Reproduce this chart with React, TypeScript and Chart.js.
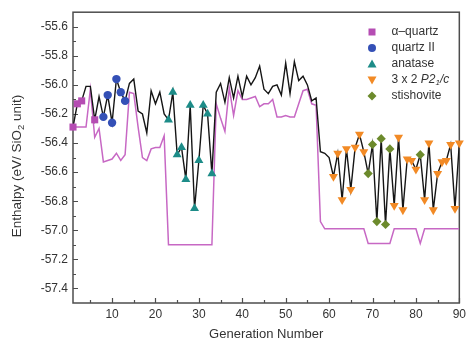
import React, { useEffect, useRef } from 'react';
import { Chart, registerables } from 'chart.js';

Chart.register(...registerables);

// ---------- data ----------
const FIRST_GENERATION = 1;

// Enthalpy of the structure found at each generation (black line), eV / SiO2 unit
const ENTHALPY = [
  -56.29, -56.13, -56.11, -56.01, -56.01, -56.24, -56.08, -56.22, -56.07, -56.26,
  -55.96, -56.05, -56.11, -55.99, -55.96, -56.18, -56.2, -56.33, -56.04, -56.13,
  -56.05, -56.2, -56.24, -56.05, -56.48, -56.43, -56.65, -56.14, -56.85, -56.52,
  -56.14, -56.2, -56.61, -56.05, -55.99, -56.12, -55.95, -56.09, -55.94, -56.08,
  -55.94, -56.0, -55.95, -55.87, -56.03, -56.06, -56.01, -56.0, -56.07, -55.85,
  -56.06, -55.84, -55.97, -55.94, -56.0, -56.11, -56.09, -56.46, -56.47, -56.5,
  -56.63, -56.47, -56.79, -56.44, -56.72, -56.43, -56.34, -56.46, -56.61, -56.41,
  -56.94, -56.37, -56.96, -56.44, -56.83, -56.36, -56.86, -56.51, -56.52, -56.58,
  -56.48, -56.79, -56.4, -56.86, -56.61, -56.53, -56.52, -56.41, -56.85, -56.4,
];

// Second (magenta) curve
const SECOND_CURVE = [
  -56.29, -56.29, -56.29, -56.29, -56.03, -56.36, -56.3, -56.53, -56.52, -56.51,
  -56.47, -56.52, -56.48, -56.05, -56.06, -56.29, -56.5, -56.52, -56.44, -56.43,
  -56.43, -56.35, -57.1, -57.1, -57.1, -57.1, -57.1, -57.1, -57.1, -57.1,
  -57.1, -57.1, -57.1, -56.13, -56.23, -56.32, -56.02, -56.21, -56.04, -56.1,
  -56.1, -56.09, -56.08, -56.15, -56.13, -56.13, -56.1, -56.22, -56.22, -56.21,
  -56.22, -56.22, -56.13, -56.04, -56.03, -56.13, -56.14, -56.94, -56.99, -56.99,
  -56.99, -56.99, -56.99, -56.99, -56.99, -56.99, -56.99, -56.99, -57.09, -57.09,
  -57.09, -57.09, -57.09, -57.09, -56.99, -56.99, -56.99, -56.99, -56.99, -56.99,
  -57.09, -56.99, -56.99, -56.99, -56.99, -56.99, -56.99, -56.99, -56.99, -56.99,
];

// Generations at which each phase was found
const ALPHA_QUARTZ_GENS = [1, 2, 3, 6];
const QUARTZ_II_GENS = [8, 9, 10, 11, 12, 13];
const ANATASE_GENS = [23, 24, 25, 26, 27, 28, 29, 30, 31, 32, 33];
const P21C_GENS = [61, 62, 63, 64, 65, 66, 67, 68, 75, 76, 77, 78, 79, 80, 82, 83, 84, 85, 86, 87, 88, 89, 90];
const STISHOVITE_GENS = [69, 70, 71, 72, 73, 74, 81];

const X_TICKS = [10, 20, 30, 40, 50, 60, 70, 80, 90];
const X_MINOR_TICKS = [5, 15, 25, 35, 45, 55, 65, 75, 85];
const Y_TICKS = [-55.6, -55.8, -56.0, -56.2, -56.4, -56.6, -56.8, -57.0, -57.2, -57.4];
const Y_MINOR_TICKS = [-55.7, -55.9, -56.1, -56.3, -56.5, -56.7, -56.9, -57.1, -57.3];

// ---------- styles ----------
const FONT = '"Liberation Sans", Arial, Helvetica, sans-serif';
const TEXT_COLOR = '#333333';
const AXIS_COLOR = '#4d4d4d';
const LINE_BLACK = '#151515';
const LINE_PINK = '#c768c4';
const C_ALPHA = '#b54db3';
const C_QII = '#3450b6';
const C_ANA = '#1d8c88';
const C_P21C = '#f28a25';
const C_STI = '#6c8a2c';

function drawMarker(ctx: CanvasRenderingContext2D, style: string, x: number, y: number, color: string) {
  ctx.save();
  ctx.fillStyle = color;
  ctx.beginPath();
  if (style === 'rect') {
    ctx.rect(x - 3.5, y - 3.5, 7, 7);
  } else if (style === 'circle') {
    ctx.arc(x, y, 4, 0, Math.PI * 2);
  } else if (style === 'triangle') {
    ctx.moveTo(x, y - 4.5);
    ctx.lineTo(x + 4.5, y + 3.5);
    ctx.lineTo(x - 4.5, y + 3.5);
  } else if (style === 'invtriangle') {
    ctx.moveTo(x, y + 4.5);
    ctx.lineTo(x + 4.5, y - 3.5);
    ctx.lineTo(x - 4.5, y - 3.5);
  } else if (style === 'diamond') {
    ctx.moveTo(x, y - 4.5);
    ctx.lineTo(x + 4.5, y);
    ctx.lineTo(x, y + 4.5);
    ctx.lineTo(x - 4.5, y);
  }
  ctx.closePath();
  ctx.fill();
  ctx.restore();
}

const framePlugin = {
  id: 'frameAndTicks',
  beforeDatasetsDraw(chart: any) {
    const { ctx, chartArea, scales } = chart;
    const { left, right, top, bottom } = chartArea;
    ctx.save();
    ctx.strokeStyle = AXIS_COLOR;
    ctx.lineWidth = 1.5;
    ctx.strokeRect(left, top, right - left, bottom - top);
    ctx.lineWidth = 1.2;
    ctx.beginPath();
    for (const v of Y_TICKS) {
      const py = Math.round(scales.y.getPixelForValue(v)) + 0.5;
      ctx.moveTo(left, py);
      ctx.lineTo(left + 5, py);
    }
    for (const v of Y_MINOR_TICKS) {
      const py = Math.round(scales.y.getPixelForValue(v)) + 0.5;
      ctx.moveTo(left, py);
      ctx.lineTo(left + 3, py);
    }
    for (const v of X_TICKS) {
      const px = Math.round(scales.x.getPixelForValue(v)) + 0.5;
      ctx.moveTo(px, bottom);
      ctx.lineTo(px, bottom - 5);
    }
    for (const v of X_MINOR_TICKS) {
      const px = Math.round(scales.x.getPixelForValue(v)) + 0.5;
      ctx.moveTo(px, bottom);
      ctx.lineTo(px, bottom - 3);
    }
    ctx.stroke();
    ctx.restore();
  },
  afterDraw(chart: any) {
    const { ctx, chartArea } = chart;
    ctx.save();
    ctx.fillStyle = TEXT_COLOR;
    ctx.textBaseline = 'middle';

    // x title
    ctx.font = `13px ${FONT}`;
    ctx.textAlign = 'center';
    ctx.fillText('Generation Number', (chartArea.left + chartArea.right) / 2, 334);

    // y title with subscript
    ctx.save();
    ctx.translate(17.5, 166);
    ctx.rotate(-Math.PI / 2);
    ctx.textAlign = 'left';
    const big = `13.5px ${FONT}`;
    const small = `9.5px ${FONT}`;
    const p1 = 'Enthalpy (eV/ SiO';
    const p2 = '2';
    const p3 = ' unit)';
    ctx.font = big;
    const w1 = ctx.measureText(p1).width;
    const w3 = ctx.measureText(p3).width;
    ctx.font = small;
    const w2 = ctx.measureText(p2).width;
    let cx = -(w1 + w2 + w3) / 2;
    ctx.font = big;
    ctx.fillText(p1, cx, 0);
    cx += w1;
    ctx.font = small;
    ctx.fillText(p2, cx, 3.5);
    cx += w2;
    ctx.font = big;
    ctx.fillText(p3, cx, 0);
    ctx.restore();

    // legend
    const items: [string, string][] = [
      ['rect', C_ALPHA],
      ['circle', C_QII],
      ['triangle', C_ANA],
      ['invtriangle', C_P21C],
      ['diamond', C_STI],
    ];
    const mx = 372;
    const tx = 391.5;
    items.forEach(([style, color], i) => {
      drawMarker(ctx, style, mx, 32 + i * 16, color);
    });
    ctx.textAlign = 'left';
    ctx.font = `12px ${FONT}`;
    ctx.fillText('\u03b1\u2013quartz', tx, 32);
    ctx.fillText('quartz II', tx, 48);
    ctx.fillText('anatase', tx, 64);
    // 3 x 2 P2_1/c
    let lx = tx;
    const ly = 80;
    ctx.font = `12px ${FONT}`;
    ctx.fillText('3 x 2 ', lx, ly);
    lx += ctx.measureText('3 x 2 ').width;
    ctx.font = `italic 12px ${FONT}`;
    ctx.fillText('P2', lx, ly);
    lx += ctx.measureText('P2').width;
    ctx.font = `italic 8px ${FONT}`;
    ctx.fillText('1', lx, ly + 3);
    lx += ctx.measureText('1').width;
    ctx.font = `italic 12px ${FONT}`;
    ctx.fillText('/c', lx, ly);
    ctx.font = `12px ${FONT}`;
    ctx.fillText('stishovite', tx, 96);
    ctx.restore();
  },
};

export default function App() {
  const ref = useRef<HTMLCanvasElement>(null);

  useEffect(() => {
    const canvas = ref.current;
    if (!canvas) return;
    const toPoints = (vals: number[]) => vals.map((y, i) => ({ x: FIRST_GENERATION + i, y }));
    const markerPoints = (gens: number[]) =>
      gens.map((g) => ({ x: g, y: ENTHALPY[g - FIRST_GENERATION] }));

    const marker = (label: string, gens: number[], style: string, color: string, radius: number, rotation = 0) => ({
      label,
      data: markerPoints(gens),
      showLine: false,
      pointStyle: style,
      pointRotation: rotation,
      pointRadius: radius,
      pointBorderWidth: 0,
      backgroundColor: color,
      borderColor: color,
      pointBackgroundColor: color,
      pointBorderColor: color,
      clip: false,
      order: 0,
    });

    const chart = new Chart(canvas, {
      type: 'line',
      data: {
        datasets: [
          marker('α–quartz', ALPHA_QUARTZ_GENS, 'rect', C_ALPHA, 5),
          marker('quartz II', QUARTZ_II_GENS, 'circle', C_QII, 4.2),
          marker('anatase', ANATASE_GENS, 'triangle', C_ANA, 5.2),
          marker('3 x 2 P21/c', P21C_GENS, 'triangle', C_P21C, 5.2, 180),
          marker('stishovite', STISHOVITE_GENS, 'rectRot', C_STI, 4.6),
          {
            label: 'enthalpy',
            data: toPoints(ENTHALPY),
            borderColor: LINE_BLACK,
            borderWidth: 1.4,
            pointRadius: 0,
            fill: false,
            tension: 0,
            order: 1,
          },
          {
            label: 'second',
            data: toPoints(SECOND_CURVE),
            borderColor: LINE_PINK,
            borderWidth: 1.5,
            pointRadius: 0,
            fill: false,
            tension: 0,
            order: 2,
          },
        ] as any,
      },
      options: {
        responsive: false,
        animation: false,
        devicePixelRatio: 1,
        layout: { padding: { top: 12, right: 5, left: 0, bottom: 0 } },
        plugins: { legend: { display: false }, tooltip: { enabled: false } },
        scales: {
          x: {
            type: 'linear',
            min: 1,
            max: 90,
            afterBuildTicks: (axis: any) => {
              axis.ticks = X_TICKS.map((value) => ({ value }));
            },
            afterFit: (axis: any) => {
              axis.height = 38;
            },
            grid: { display: false, drawTicks: false },
            border: { display: false },
            ticks: {
              padding: 4,
              color: TEXT_COLOR,
              font: { family: FONT, size: 12 },
              maxRotation: 0,
              autoSkip: false,
              callback: (v: any) => String(v),
            },
          },
          y: {
            type: 'linear',
            min: -57.5,
            max: -55.5,
            afterBuildTicks: (axis: any) => {
              axis.ticks = Y_TICKS.map((value) => ({ value }));
            },
            afterFit: (axis: any) => {
              axis.width = 73;
            },
            grid: { display: false, drawTicks: false },
            border: { display: false },
            ticks: {
              padding: 5,
              color: TEXT_COLOR,
              font: { family: FONT, size: 12 },
              autoSkip: false,
              callback: (v: any) => Number(v).toFixed(1),
            },
          },
        },
      } as any,
      plugins: [framePlugin],
    });
    return () => chart.destroy();
  }, []);

  return (
    <div style={{ position: 'absolute', left: 0, top: 0, width: 470, height: 341, background: '#fff' }}>
      <canvas ref={ref} width={470} height={341} style={{ display: 'block', width: 470, height: 341 }} />
    </div>
  );
}
